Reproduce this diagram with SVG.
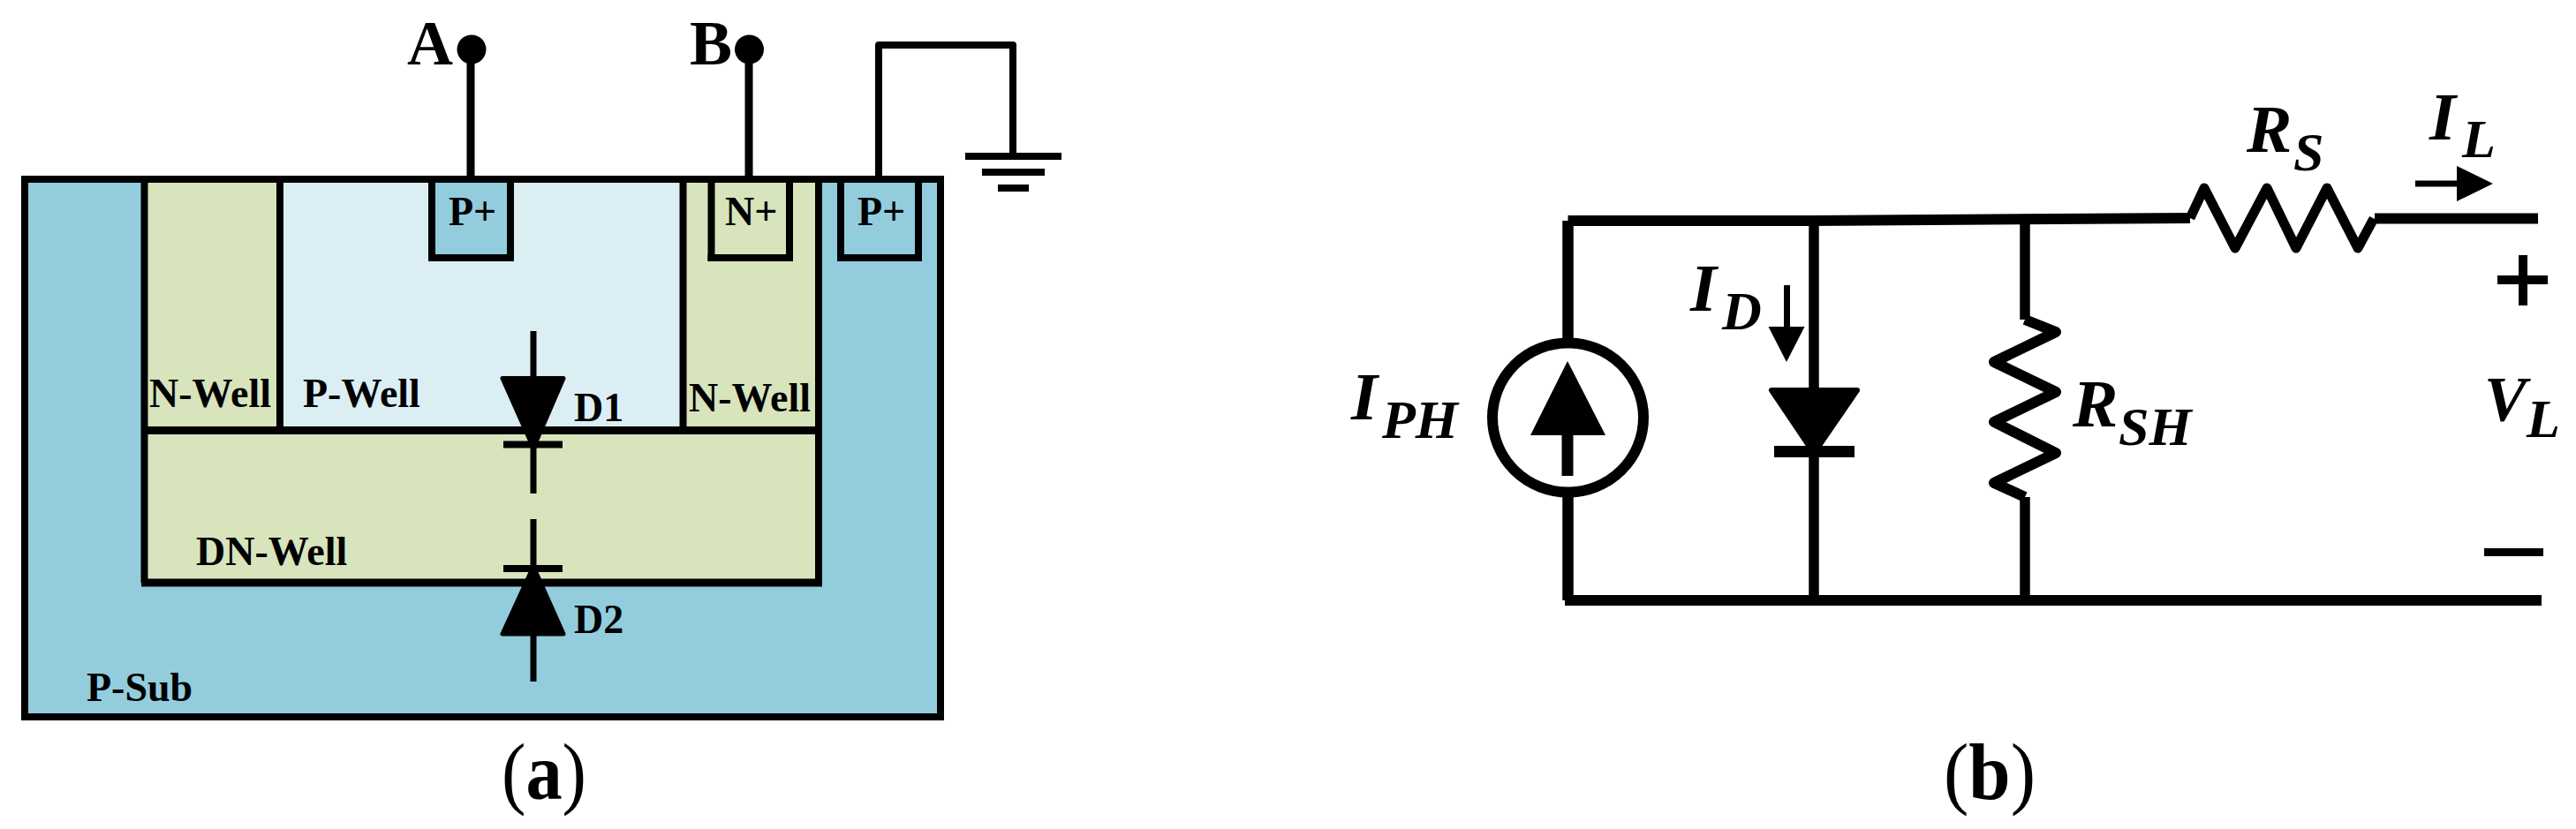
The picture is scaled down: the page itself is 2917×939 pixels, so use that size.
<svg xmlns="http://www.w3.org/2000/svg" width="2917" height="939" viewBox="0 0 2917 939">
<style>
.w{fill:none;stroke:#000;stroke-linejoin:round;stroke-linecap:butt}
.b{font-family:"Liberation Serif","Times New Roman",serif;font-weight:bold;font-size:46px;fill:#000}
.i{font-family:"Liberation Serif","Times New Roman",serif;font-style:italic;font-weight:bold;font-size:77px;fill:#000}
.s{font-size:62px}
.t{font-size:72px}
.c{font-family:"Liberation Serif","Times New Roman",serif;font-size:90px;fill:#000}
.k{fill:#000;stroke:#000;stroke-linejoin:round}
</style>
<rect width="2917" height="939" fill="#fff"/>
<g id="p-sub"><rect x="28" y="203" width="1037" height="609" fill="#93CDDD" stroke="#000" stroke-width="8"/><text class="b" x="98" y="794">P-Sub</text></g>
<g id="dn-well"><rect x="163.500" y="487.500" width="763.500" height="172.500" fill="#D7E4BC"/><text class="b" x="222" y="640">DN-Well</text></g>
<g id="n-well-left"><rect x="163.500" y="203" width="153.500" height="284.500" fill="#D7E4BC"/><text class="b" x="169" y="461">N-Well</text></g>
<g id="p-well"><rect x="317" y="203" width="456.500" height="284.500" fill="#DBEEF4"/><text class="b" x="343" y="461">P-Well</text></g>
<g id="n-well-right"><rect x="773.500" y="203" width="153.500" height="284.500" fill="#D7E4BC"/><text class="b" x="780" y="466">N-Well</text></g>
<g id="p-plus-a"><rect x="489" y="203" width="89" height="89" fill="#93CDDD"/><text class="b" x="508" y="255">P+</text></g>
<g id="n-plus"><rect x="805.500" y="203" width="88.500" height="89" fill="#D7E4BC"/><text class="b" x="821" y="255">N+</text></g>
<g id="p-plus-sub"><rect x="952" y="203" width="88" height="89" fill="#93CDDD"/><text class="b" x="971" y="255">P+</text></g>
<g id="connectors-a">
<path class="w" stroke-width="8" d="M163.500 203V660M317 203V487.500M773.500 203V487.500M927 203V660"/>
<path class="w" stroke-width="8" d="M489 203V296M578 203V296M805.500 203V296M894 203V296M952 203V296M1040 203V296"/>
<path class="w" stroke-width="8" d="M485 292H582M801.500 292H898M948 292H1044"/>
<path class="w" stroke-width="9" d="M163.500 487.500H927M160 660H931"/>
<path class="w" stroke-width="8" d="M24 203H1069"/>
<path class="w" stroke-width="9" d="M533 70V200M848 70V200"/>
<path class="w" stroke-width="8" d="M995 200V51H1147V176"/>
</g>
<g id="terminal-a"><circle cx="534" cy="56" r="16.500"/><text class="b t" x="461" y="73">A</text></g>
<g id="terminal-b"><circle cx="848.500" cy="56" r="16.500"/><text class="b t" x="781" y="73">B</text></g>
<g id="ground"><path class="w" stroke-linecap="round" stroke-width="8" d="M1093 177H1202M1112 195H1183M1130 213H1165"/></g>
<g id="diode-d1"><path class="w" stroke-linecap="round" stroke-width="7" d="M604 375V559"/><path class="k" stroke-width="5" d="M569 428.500H638L605 505H603Z"/><path class="w" stroke-linecap="round" stroke-width="8" d="M570 503.500H637"/><text class="b" x="650" y="477">D1</text></g>
<g id="diode-d2"><path class="w" stroke-linecap="round" stroke-width="7" d="M604 588V772"/><path class="k" stroke-width="5" d="M569 718H638L605 644H603Z"/><path class="w" stroke-linecap="round" stroke-width="8" d="M570 644H637"/><text class="b" x="650" y="717">D2</text></g>
<g id="connectors-b">
<path class="w" stroke-linecap="round" stroke-width="12" d="M1775.500 250H2050L2480 247M2689 247.500H2874"/>
<path class="w" stroke-width="12.500" d="M1775.500 250V384M1775.500 562V680"/>
<path class="w" stroke-width="11.500" d="M2054 250V440M2054 510V680M2293 250V362M2293 563V680"/>
<path class="w" stroke-linecap="round" stroke-width="12" d="M1772 680H2878"/>
</g>
<g id="source"><ellipse cx="1775.500" cy="473" rx="85.500" ry="84.500" fill="none" stroke="#000" stroke-width="12"/><path class="w" stroke-width="13" stroke-linecap="round" d="M1775 490V539"/><path d="M1775 409L1818 493H1733Z"/><text class="i" x="1530" y="475">I</text><text class="i s" x="1565" y="496">PH</text></g>
<g id="diode"><path class="k" stroke-width="6" d="M2006 442H2103L2055 512H2053Z"/><path class="w" stroke-linecap="round" stroke-width="13" d="M2009 511.500H2100"/><path class="w" stroke-linecap="round" stroke-width="7" d="M2023.500 323V372"/><path d="M2002.500 370H2043.500L2023 410Z"/><text class="i" x="1914" y="352">I</text><text class="i s" x="1950" y="373">D</text></g>
<g id="r-sh"><path class="w" stroke-width="12" d="M2293 362L2328 376L2258 410L2328 444L2258 478L2328 513L2258 547L2293 563"/><text class="i" x="2347" y="483">R</text><text class="i s" x="2399" y="504">SH</text></g>
<g id="r-s"><path class="w" stroke-width="11" d="M2480 247L2496 213L2531 281L2567 213L2600 281L2635 213L2670 281L2688 247.500"/><text class="i" x="2544" y="172">R</text><text class="i s" x="2597" y="193">S</text></g>
<g id="i-l"><path class="w" stroke-linecap="round" stroke-width="7" d="M2735 208H2785"/><path d="M2782 188L2823 208L2782 228Z"/><text class="i" x="2751" y="158">I</text><text class="i s" x="2788" y="178">L</text></g>
<g id="v-l"><path class="w" stroke-linecap="round" stroke-width="10" d="M2828 317H2885M2857 289V346"/><path d="M2813 621H2880V630H2813Z"/><text class="i" x="2813" y="476" style="font-size:72px">V</text><text class="i s" x="2861" y="495">L</text></g>
<g id="caption-a"><text class="c" x="568" y="905" textLength="96" lengthAdjust="spacingAndGlyphs">(<tspan font-weight="bold">a</tspan>)</text></g>
<g id="caption-b"><text class="c" x="2201" y="905" textLength="104" lengthAdjust="spacingAndGlyphs">(<tspan font-weight="bold">b</tspan>)</text></g>
</svg>
